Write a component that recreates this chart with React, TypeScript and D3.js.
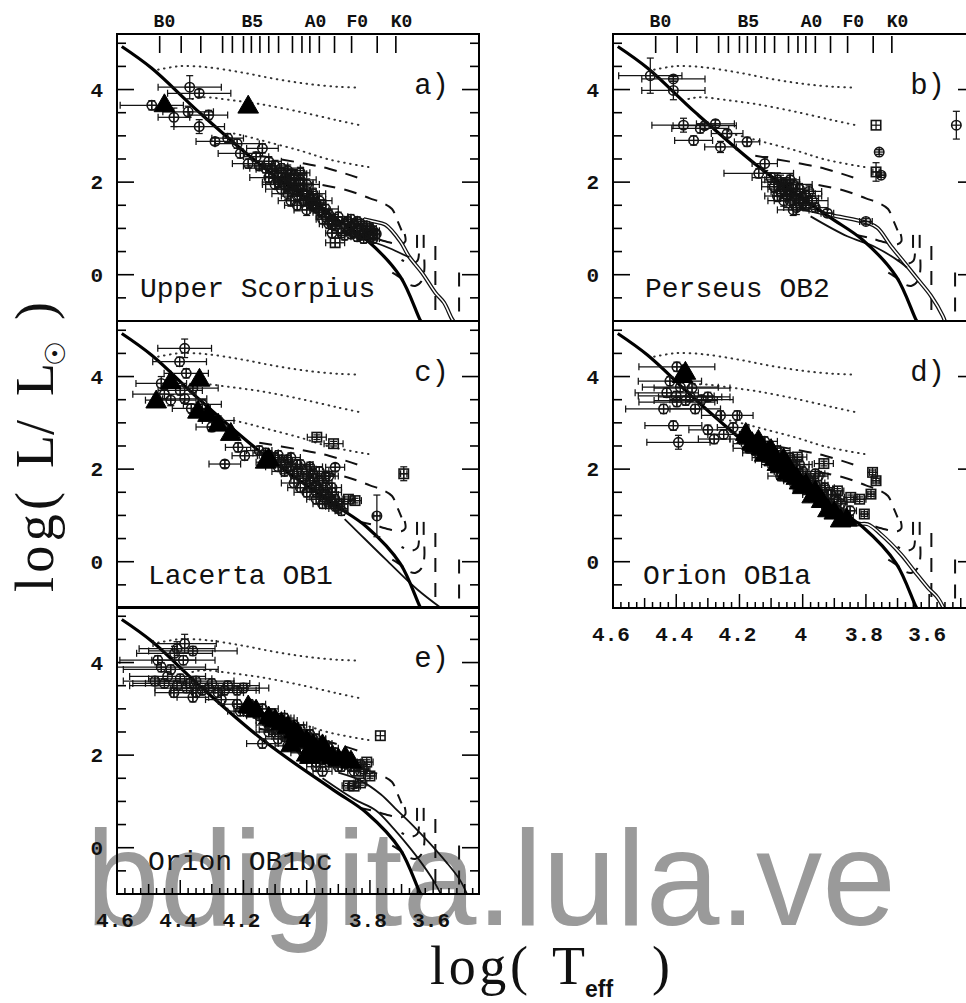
import React from "react";
import * as d3 from "d3";

type Pt = [number, number];
type Star = [number, number, number, number, string];

const T_DOMAIN: [number, number] = [4.6, 3.455];
const L_DOMAIN: [number, number] = [-1, 5.2];
const L_TICK_LABELS = [0, 2, 4];
const T_TICK_LABELS = [4.6, 4.4, 4.2, 4.0, 3.8, 3.6];
const SPECTRAL_TICKS = [4.465, 4.397, 4.335, 4.266, 4.235, 4.2, 4.175, 4.148, 4.12, 4.089, 4.045, 4.015, 3.99, 3.96, 3.912, 3.858, 3.777, 3.718];
const SPECTRAL_LABELS: [string, number][] = [["B0", 4.45], ["B5", 4.172], ["A0", 3.972], ["F0", 3.84], ["K0", 3.7]];

// model curves (shared by all panels)
const zams: Pt[] = [[4.585, 4.93], [4.49, 4.46], [4.337, 3.49], [4.126, 2.26], [3.916, 1.25], [3.81, 0.75], [3.704, -0.04], [3.641, -0.98], [3.63, -1.1]];
const dotted1: Pt[] = [[4.47, 4.43], [4.42, 4.49], [4.386, 4.51], [4.312, 4.48], [4.206, 4.37], [4.1, 4.23], [3.995, 4.12], [3.9, 4.06], [3.836, 4.04]];
const dotted2: Pt[] = [[4.38, 3.76], [4.345, 3.82], [4.31, 3.83], [4.25, 3.78], [4.143, 3.68], [4.016, 3.51], [3.9, 3.33], [3.825, 3.22]];
const dotted3: Pt[] = [[4.23, 3.05], [4.18, 2.97], [4.12, 2.86], [4.02, 2.68], [3.93, 2.49], [3.8, 2.32]];
const dashed1: Pt[] = [[4.15, 2.57], [4.03, 2.43], [3.93, 2.29], [3.84, 2.1]];
const dashed2: Pt[] = [[3.95, 1.94], [3.87, 1.82], [3.8, 1.65], [3.76, 1.55], [3.73, 1.42], [3.715, 1.2], [3.7, 0.96]];
const dashedHook1: Pt[] = [[3.69, 0.88], [3.688, 0.72], [3.7, 0.66], [3.74, 0.7], [3.79, 0.8], [3.83, 0.86]];
const dashedHook2: Pt[] = [[3.645, 0.46], [3.65, 0.3], [3.67, 0.24], [3.7, 0.32]];
const dashedHook3: Pt[] = [[3.628, 0.33], [3.628, 0.1], [3.635, -0.12], [3.655, -0.24], [3.68, -0.2], [3.7, -0.08], [3.73, 0.05]];
const hayashi1: Pt[] = [[3.651, 0.86], [3.651, 0.54]];
const hayashi2: Pt[] = [[3.63, 0.86], [3.63, 0.54]];
const hayashi3: Pt[] = [[3.593, 0.62], [3.593, -0.95]];
const hayashi4: Pt[] = [[3.518, 0.05], [3.518, -1.0]];

// isochrones per panel
const isoA1: Pt[] = [[3.82, 1.2], [3.788, 1.15], [3.751, 1.08], [3.704, 0.72], [3.677, 0.4], [3.635, 0.04], [3.593, -0.39], [3.566, -0.6], [3.54, -0.96], [3.53, -1.05]];
const isoA2: Pt[] = [[3.84, 0.8], [3.783, 0.69], [3.73, 0.55], [3.69, 0.42], [3.675, 0.38]];
const isoB1: Pt[] = [[4.006, 1.44], [3.911, 1.29], [3.795, 1.12], [3.763, 1.01], [3.72, 0.61], [3.678, 0.26], [3.636, -0.1], [3.594, -0.46], [3.557, -0.89], [3.548, -1.05]];
const isoB2: Pt[] = [[3.975, 1.26], [3.859, 0.83], [3.774, 0.61], [3.689, 0.26], [3.67, 0.15]];
const isoC1: Pt[] = [[3.88, 0.92], [3.847, 0.7], [3.75, 0.05], [3.65, -0.6], [3.565, -1.05]];
const isoD1: Pt[] = [[3.9, 1.05], [3.848, 0.81], [3.795, 0.81], [3.752, 0.59], [3.689, 0.16], [3.647, -0.2], [3.604, -0.56], [3.573, -0.78], [3.551, -1.05]];
const isoE1: Pt[] = [[3.9, 1.62], [3.83, 1.45], [3.765, 1.15], [3.72, 0.85], [3.667, 0.5], [3.614, 0.12], [3.56, -0.3], [3.515, -0.7], [3.49, -1.05]];
const isoE2: Pt[] = [[3.95, 1.5], [3.85, 1.05], [3.78, 0.8], [3.73, 0.45], [3.68, 0.05], [3.64, -0.3], [3.6, -0.7], [3.572, -1.05]];

// stars: [logTeff, logL, errT, errL, symbol]
const starsA: Star[] = [
  [4.37, 4.05, 0.1, 0.25, "c"], [4.34, 3.92, 0.1, 0.08, "c"], [4.49, 3.66, 0.1, 0.1, "c"], [4.375, 3.52, 0.08, 0.12, "c"],
  [4.31, 3.45, 0.06, 0.1, "c"], [4.34, 3.2, 0.08, 0.15, "c"], [4.42, 3.4, 0.05, 0.2, "c"], [4.29, 2.88, 0.06, 0.08, "c"],
  [4.25, 2.95, 0.05, 0.1, "c"], [4.22, 2.83, 0.07, 0.1, "c"], [4.14, 2.73, 0.05, 0.1, "c"], [4.21, 2.62, 0.07, 0.1, "c"],
  [4.185, 2.4, 0.05, 0.1, "c"], [4.16, 2.55, 0.04, 0.1, "c"],
  [4.1, 2.35, 0.04, 0.12, "c"], [4.08, 2.2, 0.03, 0.12, "c"], [4.06, 2.25, 0.05, 0.12, "c"], [4.05, 2.05, 0.04, 0.12, "c"],
  [4.07, 1.95, 0.06, 0.12, "c"], [4.04, 1.85, 0.03, 0.12, "c"], [4.02, 1.95, 0.04, 0.12, "c"], [4.03, 1.7, 0.05, 0.12, "c"],
  [4.0, 1.8, 0.03, 0.12, "c"], [4.01, 1.6, 0.04, 0.12, "c"], [3.99, 1.65, 0.03, 0.12, "c"], [3.98, 1.5, 0.04, 0.12, "c"],
  [3.97, 1.55, 0.03, 0.12, "c"], [4.05, 1.6, 0.04, 0.12, "c"], [4.09, 2.0, 0.05, 0.12, "c"], [4.12, 2.1, 0.06, 0.12, "c"],
  [3.96, 1.4, 0.03, 0.12, "c"], [4.0, 1.4, 0.04, 0.12, "c"], [4.04, 2.15, 0.04, 0.12, "c"], [4.02, 2.2, 0.03, 0.12, "c"],
  [3.98, 1.75, 0.04, 0.12, "c"], [4.06, 1.75, 0.05, 0.12, "c"],
  [4.11, 2.28, 0.05, 0.12, "c"], [4.09, 2.12, 0.04, 0.12, "c"], [4.08, 2.3, 0.06, 0.1, "c"], [4.07, 2.08, 0.05, 0.12, "c"],
  [4.06, 1.9, 0.04, 0.12, "c"], [4.05, 2.18, 0.05, 0.1, "c"], [4.04, 1.98, 0.06, 0.12, "c"], [4.03, 1.82, 0.04, 0.12, "c"],
  [4.02, 2.05, 0.05, 0.12, "c"], [4.01, 1.75, 0.05, 0.12, "c"], [4.0, 1.95, 0.04, 0.12, "c"], [3.99, 1.55, 0.05, 0.12, "c"],
  [3.98, 1.62, 0.04, 0.12, "c"], [3.97, 1.45, 0.03, 0.12, "c"], [3.96, 1.6, 0.04, 0.12, "c"], [3.95, 1.35, 0.03, 0.1, "c"],
  [3.94, 1.42, 0.04, 0.1, "c"], [3.93, 1.3, 0.03, 0.1, "c"], [3.92, 1.08, 0.03, 0.1, "c"], [3.9, 1.25, 0.03, 0.1, "c"],
  [3.89, 0.9, 0.03, 0.1, "c"], [3.87, 1.15, 0.03, 0.1, "c"], [3.86, 0.88, 0.02, 0.1, "c"], [3.85, 1.1, 0.03, 0.1, "c"],
  [3.84, 0.82, 0.02, 0.1, "c"], [3.83, 1.1, 0.02, 0.1, "c"], [3.82, 0.88, 0.02, 0.1, "c"], [3.81, 0.95, 0.02, 0.1, "c"],
  [3.8, 1.0, 0.02, 0.1, "c"], [3.79, 0.95, 0.02, 0.1, "c"], [3.78, 0.88, 0.01, 0.1, "c"], [3.79, 0.78, 0.02, 0.1, "c"],
  [4.03, 1.5, 0.04, 0.12, "c"], [4.08, 1.85, 0.05, 0.1, "c"], [4.1, 1.95, 0.04, 0.1, "c"], [4.13, 2.3, 0.05, 0.1, "c"],
  [4.15, 2.35, 0.05, 0.1, "c"], [4.12, 2.45, 0.04, 0.1, "c"],
  [3.94, 1.25, 0.03, 0.1, "c"], [3.92, 1.2, 0.02, 0.1, "c"], [3.9, 1.15, 0.03, 0.1, "c"], [3.88, 1.1, 0.02, 0.1, "c"],
  [3.86, 1.05, 0.03, 0.1, "c"], [3.84, 1.0, 0.02, 0.1, "c"], [3.82, 0.95, 0.02, 0.1, "c"], [3.8, 0.9, 0.02, 0.1, "c"],
  [3.79, 0.85, 0.01, 0.1, "c"], [3.81, 1.05, 0.02, 0.1, "c"], [3.83, 0.85, 0.02, 0.1, "c"], [3.85, 0.9, 0.03, 0.1, "c"],
  [3.87, 0.95, 0.02, 0.1, "c"], [3.89, 1.0, 0.03, 0.1, "c"], [3.91, 1.05, 0.02, 0.1, "c"], [3.93, 1.1, 0.03, 0.1, "c"],
  [3.95, 1.2, 0.02, 0.1, "c"], [3.86, 1.2, 0.02, 0.1, "c"], [3.84, 1.15, 0.02, 0.1, "c"], [3.8, 0.8, 0.02, 0.1, "c"],
  [3.82, 0.78, 0.02, 0.1, "c"], [3.92, 0.9, 0.02, 0.1, "c"], [3.88, 0.85, 0.02, 0.1, "c"], [3.91, 0.69, 0.03, 0.1, "s"],
];
const trisA: Pt[] = [[4.45, 3.65], [4.185, 3.62]];

const starsB: Star[] = [
  [4.482, 4.3, 0.1, 0.38, "c"], [4.409, 4.23, 0.1, 0.05, "c"], [4.409, 3.98, 0.1, 0.2, "c"], [4.377, 3.23, 0.1, 0.15, "c"],
  [4.324, 3.16, 0.09, 0.1, "c"], [4.31, 3.22, 0.1, 0.08, "c"], [4.276, 3.26, 0.06, 0.08, "c"], [4.239, 3.05, 0.05, 0.08, "c"],
  [4.345, 2.9, 0.06, 0.1, "c"], [4.26, 2.76, 0.05, 0.12, "c"], [4.176, 2.87, 0.04, 0.1, "c"], [4.139, 2.19, 0.11, 0.1, "c"],
  [4.12, 2.4, 0.04, 0.15, "c"],
  [4.08, 2.05, 0.04, 0.15, "c"], [4.06, 1.95, 0.05, 0.12, "c"], [4.05, 1.85, 0.03, 0.12, "c"], [4.04, 1.75, 0.04, 0.12, "c"],
  [4.03, 1.95, 0.06, 0.12, "c"], [4.02, 1.65, 0.05, 0.15, "c"], [4.05, 1.7, 0.04, 0.1, "c"], [4.07, 1.8, 0.03, 0.12, "c"],
  [4.01, 1.85, 0.04, 0.12, "c"], [4.0, 1.55, 0.03, 0.12, "c"], [3.99, 1.7, 0.05, 0.12, "c"], [4.04, 2.05, 0.03, 0.1, "c"],
  [4.02, 1.45, 0.04, 0.15, "c"], [4.06, 1.6, 0.05, 0.12, "c"], [3.98, 1.8, 0.04, 0.12, "c"], [4.09, 1.9, 0.04, 0.12, "c"],
  [4.07, 2.0, 0.06, 0.15, "c"], [4.05, 1.95, 0.04, 0.12, "c"], [4.04, 1.6, 0.05, 0.15, "c"], [4.03, 1.85, 0.03, 0.15, "c"],
  [4.02, 1.75, 0.06, 0.12, "c"], [4.01, 1.55, 0.04, 0.15, "c"], [4.0, 1.65, 0.05, 0.12, "c"], [3.99, 1.5, 0.04, 0.12, "c"],
  [4.06, 1.85, 0.05, 0.12, "c"], [4.08, 1.7, 0.04, 0.12, "c"], [4.03, 1.4, 0.05, 0.12, "c"], [3.97, 1.6, 0.05, 0.1, "c"],
  [4.1, 2.1, 0.06, 0.1, "c"], [3.96, 1.45, 0.04, 0.1, "c"],
  [3.922, 1.33, 0.02, 0.08, "c"], [3.8, 1.15, 0.02, 0.06, "c"],
  [3.768, 3.23, 0, 0, "s"], [3.758, 2.65, 0, 0.05, "c"], [3.768, 2.22, 0.01, 0.2, "s"], [3.752, 2.15, 0.01, 0.05, "c"],
  [3.514, 3.23, 0, 0.3, "c"],
];
const trisB: Pt[] = [];

const starsC: Star[] = [
  [4.386, 4.61, 0.085, 0.2, "c"], [4.402, 4.32, 0.085, 0.1, "c"], [4.381, 4.07, 0.07, 0.1, "c"], [4.46, 3.85, 0.08, 0.15, "c"],
  [4.43, 3.49, 0.08, 0.12, "c"], [4.386, 3.52, 0.07, 0.1, "c"], [4.365, 3.31, 0.06, 0.1, "c"], [4.3, 2.91, 0.05, 0.1, "c"],
  [4.217, 2.47, 0.04, 0.1, "c"], [4.196, 2.29, 0.04, 0.1, "c"], [4.259, 2.11, 0.05, 0.08, "c"], [4.4, 3.7, 0.07, 0.1, "c"],
  [4.33, 3.4, 0.06, 0.1, "c"], [4.28, 3.05, 0.05, 0.1, "c"], [4.45, 3.62, 0.1, 0.1, "c"], [4.36, 3.75, 0.08, 0.1, "c"],
  [3.968, 2.69, 0.03, 0.05, "s"], [3.915, 2.55, 0.03, 0.05, "s"], [3.91, 2.04, 0.03, 0.08, "c"], [3.868, 1.35, 0.02, 0.05, "s"],
  [3.847, 1.32, 0.02, 0.05, "s"], [3.778, 0.99, 0.01, 0.45, "c"], [3.693, 1.9, 0.01, 0.15, "s"],
  [4.15, 2.4, 0.04, 0.1, "c"], [4.12, 2.3, 0.03, 0.1, "c"], [4.1, 2.25, 0.04, 0.1, "c"], [4.08, 2.15, 0.03, 0.1, "c"],
  [4.06, 2.2, 0.04, 0.1, "c"], [4.05, 2.05, 0.03, 0.1, "c"], [4.03, 1.95, 0.04, 0.1, "c"], [4.02, 2.1, 0.03, 0.1, "c"],
  [4.0, 1.85, 0.04, 0.1, "c"], [3.99, 1.75, 0.03, 0.1, "c"], [3.98, 1.9, 0.04, 0.1, "c"], [3.97, 1.65, 0.03, 0.1, "c"],
  [3.96, 1.55, 0.04, 0.1, "c"], [3.95, 1.7, 0.03, 0.1, "c"], [3.94, 1.45, 0.04, 0.1, "c"], [3.93, 1.4, 0.03, 0.1, "c"],
  [3.92, 1.3, 0.03, 0.1, "c"], [3.91, 1.2, 0.03, 0.1, "c"], [3.9, 1.15, 0.03, 0.1, "c"], [4.04, 1.7, 0.04, 0.1, "c"],
  [4.0, 1.5, 0.04, 0.1, "c"], [3.97, 1.35, 0.03, 0.1, "c"], [3.95, 1.25, 0.03, 0.1, "c"], [4.07, 1.95, 0.04, 0.1, "c"],
  [4.09, 2.05, 0.04, 0.1, "c"], [3.94, 1.85, 0.03, 0.1, "c"], [3.92, 1.6, 0.03, 0.1, "c"], [4.02, 1.6, 0.04, 0.1, "c"],
  [4.13, 2.35, 0.04, 0.1, "c"], [4.11, 2.15, 0.05, 0.1, "c"], [4.09, 2.3, 0.04, 0.1, "c"], [4.07, 2.1, 0.05, 0.1, "c"],
  [4.05, 2.25, 0.03, 0.1, "c"], [4.04, 1.9, 0.04, 0.1, "c"], [4.03, 2.1, 0.05, 0.1, "c"], [4.01, 1.8, 0.04, 0.1, "c"],
  [4.0, 2.0, 0.03, 0.1, "c"], [3.99, 1.6, 0.04, 0.1, "c"], [3.98, 1.8, 0.05, 0.1, "c"], [3.97, 1.5, 0.04, 0.1, "c"],
  [3.96, 1.75, 0.03, 0.1, "c"], [3.95, 1.4, 0.04, 0.1, "c"], [3.94, 1.6, 0.03, 0.1, "c"], [3.93, 1.25, 0.03, 0.1, "c"],
  [3.92, 1.5, 0.03, 0.1, "c"], [3.91, 1.35, 0.03, 0.1, "c"], [3.9, 1.25, 0.03, 0.1, "c"], [3.89, 1.1, 0.02, 0.1, "c"],
  [3.96, 1.95, 0.03, 0.1, "c"], [3.99, 2.05, 0.04, 0.1, "c"], [3.93, 1.85, 0.03, 0.1, "c"],
];
const trisC: Pt[] = [[4.476, 3.45], [4.43, 3.87], [4.339, 3.92], [4.344, 3.23], [4.312, 3.16], [4.24, 2.75], [4.13, 2.15], [4.12, 2.2], [4.28, 2.95]];

const starsD: Star[] = [
  [4.398, 4.21, 0.12, 0.1, "c"], [4.387, 3.77, 0.12, 0.1, "c"], [4.42, 3.9, 0.1, 0.1, "c"], [4.356, 3.56, 0.1, 0.1, "c"],
  [4.398, 3.45, 0.12, 0.1, "c"], [4.3, 3.56, 0.07, 0.1, "c"], [4.409, 2.94, 0.09, 0.1, "c"], [4.393, 2.58, 0.1, 0.15, "c"],
  [4.207, 3.16, 0.05, 0.1, "c"], [4.26, 3.16, 0.06, 0.1, "c"], [4.34, 3.3, 0.08, 0.1, "c"], [4.3, 2.85, 0.06, 0.1, "c"],
  [4.25, 2.75, 0.05, 0.1, "c"], [4.28, 2.65, 0.05, 0.1, "c"], [4.22, 2.9, 0.05, 0.1, "c"],
  [4.44, 3.3, 0.12, 0.1, "c"], [4.4, 3.58, 0.12, 0.1, "c"], [4.37, 3.48, 0.1, 0.1, "c"], [4.32, 3.5, 0.1, 0.1, "c"],
  [4.35, 3.75, 0.12, 0.1, "c"], [4.43, 3.65, 0.1, 0.1, "c"],
  [4.18, 2.55, 0.04, 0.1, "c"], [4.15, 2.4, 0.04, 0.1, "c"], [4.13, 2.5, 0.03, 0.1, "c"], [4.12, 2.25, 0.04, 0.1, "c"],
  [4.1, 2.35, 0.03, 0.1, "c"], [4.09, 2.1, 0.04, 0.1, "c"], [4.08, 2.2, 0.03, 0.1, "c"], [4.06, 2.0, 0.04, 0.1, "c"],
  [4.05, 2.15, 0.03, 0.1, "c"], [4.04, 1.9, 0.04, 0.1, "c"], [4.03, 1.8, 0.03, 0.1, "c"], [4.02, 2.0, 0.04, 0.1, "c"],
  [4.01, 1.7, 0.03, 0.1, "c"], [4.0, 1.85, 0.04, 0.1, "c"], [3.99, 1.6, 0.03, 0.1, "c"], [3.98, 1.75, 0.04, 0.1, "c"],
  [3.97, 1.5, 0.03, 0.1, "c"], [3.96, 1.65, 0.04, 0.1, "c"], [3.95, 1.4, 0.03, 0.1, "c"], [3.94, 1.55, 0.04, 0.1, "c"],
  [3.93, 1.3, 0.03, 0.1, "c"], [3.92, 1.45, 0.03, 0.1, "c"], [3.91, 1.2, 0.03, 0.1, "c"], [3.9, 1.35, 0.03, 0.1, "c"],
  [3.89, 1.1, 0.03, 0.1, "c"], [3.88, 1.25, 0.02, 0.1, "c"], [3.87, 1.0, 0.02, 0.1, "c"], [4.07, 1.85, 0.04, 0.1, "c"],
  [4.04, 2.25, 0.04, 0.1, "c"], [3.95, 1.85, 0.03, 0.1, "c"],
  [4.19, 2.65, 0.04, 0.1, "c"], [4.17, 2.45, 0.05, 0.1, "c"], [4.16, 2.6, 0.04, 0.1, "c"], [4.14, 2.35, 0.05, 0.1, "c"],
  [4.11, 2.45, 0.04, 0.1, "c"], [4.1, 2.2, 0.05, 0.1, "c"], [4.07, 2.3, 0.04, 0.1, "c"], [4.06, 2.1, 0.05, 0.1, "c"],
  [4.05, 1.95, 0.04, 0.1, "c"], [4.03, 2.1, 0.05, 0.1, "c"], [4.02, 1.75, 0.04, 0.1, "c"], [4.0, 1.95, 0.05, 0.1, "c"],
  [3.99, 1.8, 0.04, 0.1, "c"], [3.98, 1.55, 0.05, 0.1, "c"], [3.97, 1.7, 0.04, 0.1, "c"], [3.96, 1.45, 0.04, 0.1, "c"],
  [3.94, 1.35, 0.04, 0.1, "c"], [3.93, 1.6, 0.03, 0.1, "c"], [3.92, 1.25, 0.03, 0.1, "c"], [3.91, 1.45, 0.03, 0.1, "c"],
  [3.9, 1.15, 0.03, 0.1, "c"], [3.89, 1.3, 0.03, 0.1, "c"], [3.88, 1.05, 0.03, 0.1, "c"], [3.86, 0.95, 0.02, 0.1, "c"],
  [3.85, 1.1, 0.02, 0.1, "c"], [4.08, 2.4, 0.04, 0.1, "c"], [4.01, 2.1, 0.04, 0.1, "c"], [3.96, 1.9, 0.03, 0.1, "c"],
  [4.12, 2.6, 0.04, 0.1, "c"],
  [3.933, 2.12, 0.03, 0.05, "s"], [4.017, 2.26, 0.03, 0.05, "s"], [3.779, 1.93, 0.01, 0.05, "s"], [3.768, 1.75, 0.01, 0.05, "s"],
  [3.784, 1.46, 0.01, 0.05, "s"], [3.805, 1.03, 0.01, 0.05, "s"], [3.848, 1.39, 0.02, 0.05, "s"], [3.89, 1.53, 0.02, 0.05, "s"],
  [3.82, 1.35, 0.02, 0.05, "s"],
];
const trisD: Pt[] = [
  [4.371, 4.07], [4.38, 4.0], [4.176, 2.69], [4.18, 2.75], [4.16, 2.55], [4.15, 2.5], [4.14, 2.6], [4.13, 2.45], [4.12, 2.3],
  [4.11, 2.35], [4.1, 2.4], [4.09, 2.2], [4.08, 2.1], [4.07, 2.05], [4.06, 2.2], [4.05, 1.9], [4.04, 1.95], [4.03, 1.85],
  [4.02, 1.8], [4.01, 1.7], [4.0, 1.6], [3.99, 1.65], [3.97, 1.4], [3.96, 1.5], [3.94, 1.3], [3.92, 1.1], [3.9, 1.05],
  [3.88, 0.88], [3.86, 0.9],
];

const starsE: Star[] = [
  [4.471, 4.05, 0.12, 0.1, "c"], [4.418, 4.2, 0.12, 0.15, "c"], [4.386, 4.41, 0.1, 0.2, "c"], [4.39, 4.05, 0.1, 0.1, "c"],
  [4.36, 4.25, 0.14, 0.1, "c"], [4.43, 3.85, 0.15, 0.1, "c"],
  [4.4, 3.65, 0.1, 0.1, "c"], [4.35, 3.6, 0.12, 0.1, "c"], [4.3, 3.55, 0.12, 0.1, "c"], [4.25, 3.5, 0.1, 0.1, "c"],
  [4.2, 3.45, 0.08, 0.1, "c"], [4.45, 3.55, 0.1, 0.1, "c"], [4.38, 3.45, 0.1, 0.1, "c"], [4.33, 3.4, 0.1, 0.1, "c"],
  [4.28, 3.35, 0.08, 0.1, "c"], [4.22, 3.4, 0.07, 0.1, "c"], [4.42, 3.35, 0.06, 0.1, "c"], [4.36, 3.25, 0.05, 0.1, "c"],
  [4.27, 3.2, 0.05, 0.1, "c"],
  [4.48, 3.6, 0.1, 0.1, "c"], [4.44, 3.7, 0.12, 0.1, "c"], [4.41, 3.5, 0.15, 0.1, "c"], [4.37, 3.55, 0.14, 0.1, "c"],
  [4.31, 3.45, 0.12, 0.1, "c"], [4.26, 3.4, 0.1, 0.1, "c"], [4.35, 3.35, 0.08, 0.1, "c"], [4.46, 3.9, 0.14, 0.1, "c"],
  [4.41, 4.3, 0.12, 0.15, "c"],
  [4.22, 3.1, 0.04, 0.1, "c"], [4.19, 2.95, 0.04, 0.1, "c"], [4.17, 3.05, 0.03, 0.1, "c"], [4.15, 2.85, 0.04, 0.1, "c"],
  [4.13, 2.75, 0.03, 0.1, "c"], [4.11, 2.9, 0.04, 0.1, "c"], [4.1, 2.65, 0.03, 0.1, "c"], [4.08, 2.55, 0.04, 0.1, "c"],
  [4.07, 2.8, 0.03, 0.1, "c"], [4.05, 2.45, 0.04, 0.1, "c"], [4.04, 2.65, 0.03, 0.1, "c"], [4.03, 2.35, 0.04, 0.1, "c"],
  [4.02, 2.55, 0.03, 0.1, "c"], [4.0, 2.25, 0.04, 0.1, "c"], [3.99, 2.45, 0.03, 0.1, "c"], [3.98, 2.15, 0.04, 0.1, "c"],
  [3.97, 2.35, 0.03, 0.1, "c"], [3.96, 2.05, 0.04, 0.1, "c"], [3.95, 2.25, 0.03, 0.1, "c"], [3.94, 1.95, 0.04, 0.1, "c"],
  [3.93, 2.15, 0.03, 0.1, "c"], [3.92, 1.85, 0.03, 0.1, "c"], [3.91, 2.05, 0.03, 0.1, "c"], [3.9, 1.75, 0.03, 0.1, "c"],
  [3.89, 1.95, 0.03, 0.1, "c"], [3.88, 1.85, 0.02, 0.1, "c"], [3.86, 1.75, 0.02, 0.1, "c"], [3.85, 1.65, 0.02, 0.1, "c"],
  [3.83, 1.8, 0.02, 0.1, "c"], [3.82, 1.7, 0.02, 0.1, "c"], [4.06, 2.2, 0.04, 0.1, "c"], [4.01, 2.05, 0.04, 0.1, "c"],
  [3.97, 1.85, 0.03, 0.1, "c"], [3.95, 1.65, 0.03, 0.1, "c"], [4.12, 2.5, 0.04, 0.1, "c"], [4.09, 2.35, 0.04, 0.1, "c"],
  [4.14, 2.25, 0.05, 0.1, "c"],
  [4.21, 2.95, 0.04, 0.1, "c"], [4.18, 3.1, 0.05, 0.1, "c"], [4.16, 2.9, 0.04, 0.1, "c"], [4.14, 3.0, 0.05, 0.1, "c"],
  [4.12, 2.65, 0.04, 0.1, "c"], [4.1, 2.8, 0.05, 0.1, "c"], [4.09, 2.55, 0.04, 0.1, "c"], [4.08, 2.75, 0.05, 0.1, "c"],
  [4.06, 2.45, 0.04, 0.1, "c"], [4.05, 2.65, 0.05, 0.1, "c"], [4.04, 2.35, 0.04, 0.1, "c"], [4.03, 2.55, 0.05, 0.1, "c"],
  [4.01, 2.3, 0.04, 0.1, "c"], [4.0, 2.45, 0.04, 0.1, "c"], [3.99, 2.15, 0.04, 0.1, "c"], [3.98, 2.35, 0.04, 0.1, "c"],
  [3.97, 2.0, 0.03, 0.1, "c"], [3.96, 2.25, 0.03, 0.1, "c"], [3.95, 1.9, 0.03, 0.1, "c"], [3.94, 2.1, 0.03, 0.1, "c"],
  [3.93, 1.85, 0.03, 0.1, "c"], [3.92, 2.0, 0.03, 0.1, "c"], [3.91, 1.9, 0.03, 0.1, "c"], [3.9, 1.85, 0.03, 0.1, "c"],
  [3.89, 1.75, 0.02, 0.1, "c"], [3.87, 1.9, 0.02, 0.1, "c"], [3.86, 1.85, 0.02, 0.1, "c"], [3.84, 1.75, 0.02, 0.1, "c"],
  [3.83, 1.65, 0.02, 0.1, "c"], [4.02, 2.15, 0.04, 0.1, "c"], [3.97, 1.75, 0.03, 0.1, "c"], [4.07, 2.4, 0.04, 0.1, "c"],
  [4.11, 2.55, 0.04, 0.1, "c"],
  [3.767, 2.42, 0, 0, "s"], [3.868, 1.34, 0.02, 0.05, "s"], [3.85, 1.33, 0.02, 0.05, "s"], [3.83, 1.4, 0.02, 0.05, "s"],
  [3.8, 1.55, 0.02, 0.05, "s"], [3.81, 1.85, 0.02, 0.05, "s"],
];
const trisE: Pt[] = [
  [4.185, 3.04], [4.16, 2.95], [4.12, 2.8], [4.1, 2.75], [4.08, 2.68], [4.06, 2.6], [4.04, 2.5], [4.03, 2.45], [4.02, 2.35],
  [4.0, 2.3], [4.05, 2.2], [3.99, 1.95], [4.0, 2.0], [3.98, 2.2], [3.97, 2.1], [3.96, 2.05], [3.95, 2.2], [3.94, 2.0],
  [3.92, 1.95], [3.9, 1.9], [3.878, 1.95], [3.86, 1.85],
];

// layout
const W = 966, H = 1003, PW = 362, PH = 287;
const PANELS = [
  { key: "a", name: "Upper Scorpius", left: 117, top: 34, nameDx: 23, spectral: true, xlabels: false, stars: starsA, tris: trisA, dbl: [isoA1], sgl: [isoA2] },
  { key: "b", name: "Perseus OB2", left: 613, top: 34, nameDx: 32, spectral: true, xlabels: false, stars: starsB, tris: trisB, dbl: [isoB1], sgl: [isoB2] },
  { key: "c", name: "Lacerta OB1", left: 117, top: 321, nameDx: 31, spectral: false, xlabels: false, stars: starsC, tris: trisC, dbl: [], sgl: [isoC1] },
  { key: "d", name: "Orion OB1a", left: 613, top: 321, nameDx: 30, spectral: false, xlabels: true, stars: starsD, tris: trisD, dbl: [isoD1], sgl: [] },
  { key: "e", name: "Orion OB1bc", left: 117, top: 607, nameDx: 31, spectral: false, xlabels: true, stars: starsE, tris: trisE, dbl: [], sgl: [isoE1, isoE2] },
];

const MONO = "'Liberation Mono', 'DejaVu Sans Mono', monospace";

function Panel({ p }: { p: (typeof PANELS)[number] }) {
  const x = d3.scaleLinear().domain(T_DOMAIN).range([p.left, p.left + PW]);
  const y = d3.scaleLinear().domain(L_DOMAIN).range([p.top + PH, p.top]);
  const smooth = d3.line<Pt>().x((d) => x(d[0])).y((d) => y(d[1])).curve(d3.curveCatmullRom.alpha(0.5));
  const straight = d3.line<Pt>().x((d) => x(d[0])).y((d) => y(d[1]));
  const clip = `clip-${p.key}`;
  const yTicks = d3.range(-0.5, 5.01, 0.5);
  const xTicks = d3.range(0, 46).map((i) => ({ v: 4.6 - i * 0.025, major: i % 8 === 0, mid: i % 4 === 0 }));
  const tri = d3.symbol(d3.symbolTriangle, 185)() as string;
  const r = 4.7;
  return (
    <g>
      <defs>
        <clipPath id={clip}>
          <rect x={p.left} y={p.top} width={PW} height={PH} />
        </clipPath>
      </defs>
      <g clipPath={`url(#${clip})`} fill="none">
        {[dotted1, dotted2, dotted3].map((c, i) => (
          <path key={"dt" + i} d={smooth(c)!} stroke="#333" strokeWidth={2} strokeDasharray="0.6 5.4" strokeLinecap="round" />
        ))}
        {[dashed1, dashed2, dashedHook1, dashedHook2, dashedHook3].map((c, i) => (
          <path key={"ds" + i} d={smooth(c)!} stroke="#111" strokeWidth={2} strokeDasharray="13 9" />
        ))}
        {[hayashi1, hayashi2].map((c, i) => (
          <path key={"h" + i} d={straight(c)!} stroke="#111" strokeWidth={2} strokeDasharray="13 6" />
        ))}
        {[hayashi3, hayashi4].map((c, i) => (
          <path key={"hv" + i} d={straight(c)!} stroke="#111" strokeWidth={2} strokeDasharray="14 11" />
        ))}
        {p.dbl.map((c, i) => (
          <g key={"db" + i}>
            <path d={smooth(c)!} stroke="#111" strokeWidth={4} />
            <path d={smooth(c)!} stroke="#fff" strokeWidth={1.5} />
          </g>
        ))}
        {p.sgl.map((c, i) => (
          <path key={"sg" + i} d={smooth(c)!} stroke="#111" strokeWidth={1.8} />
        ))}
        <path d={smooth(zams)!} stroke="#000" strokeWidth={3.2} />
        {p.stars.map((s, i) => {
          const cx = x(s[0]), cy = y(s[1]);
          const x1 = x(s[0] + s[2]), x2 = x(s[0] - s[2]);
          const y1 = y(s[1] + s[3]), y2 = y(s[1] - s[3]);
          return (
            <g key={"s" + i} stroke="#141414" strokeWidth={1.25}>
              {s[2] > 0 && (
                <>
                  <line x1={x1} x2={x2} y1={cy} y2={cy} />
                  <line x1={x1} x2={x1} y1={cy - 3.5} y2={cy + 3.5} />
                  <line x1={x2} x2={x2} y1={cy - 3.5} y2={cy + 3.5} />
                </>
              )}
              {s[3] > 0 && (
                <>
                  <line x1={cx} x2={cx} y1={y1} y2={y2} />
                  <line x1={cx - 3.5} x2={cx + 3.5} y1={y1} y2={y1} />
                  <line x1={cx - 3.5} x2={cx + 3.5} y1={y2} y2={y2} />
                </>
              )}
              {s[4] === "s" ? (
                <rect x={cx - r} y={cy - r} width={2 * r} height={2 * r} strokeWidth={1.6} />
              ) : (
                <circle cx={cx} cy={cy} r={r} strokeWidth={1.6} />
              )}
              <line x1={cx - r} x2={cx + r} y1={cy} y2={cy} />
              <line x1={cx} x2={cx} y1={cy - r} y2={cy + r} />
            </g>
          );
        })}
        {p.tris.map((t, i) => (
          <path key={"t" + i} d={tri} transform={`translate(${x(t[0])},${y(t[1])})`} fill="#000" stroke="#000" strokeWidth={1} />
        ))}
      </g>
      {/* frame */}
      <rect x={p.left} y={p.top} width={PW} height={PH} fill="none" stroke="#000" strokeWidth={2} />
      {yTicks.map((v) => {
        const len = Math.abs(v % 2) < 1e-6 ? 17 : 9;
        return (
          <g key={"yt" + v} stroke="#000" strokeWidth={1.6}>
            <line x1={p.left} x2={p.left + len} y1={y(v)} y2={y(v)} />
            <line x1={p.left + PW} x2={p.left + PW - len} y1={y(v)} y2={y(v)} />
          </g>
        );
      })}
      {L_TICK_LABELS.map((v) => (
        <text key={"yl" + v} x={p.left - 14} y={y(v) + 7} textAnchor="end" fontFamily={MONO} fontWeight="bold" fontSize={21} fill="#111">
          {d3.format("d")(v)}
        </text>
      ))}
      {p.xlabels && (
        <g>
          {xTicks.map((t, i) => (
            <line key={"xt" + i} x1={x(t.v)} x2={x(t.v)} y1={p.top + PH} y2={p.top + PH - (t.major ? 14 : t.mid ? 10 : 6)} stroke="#000" strokeWidth={1.5} />
          ))}
          {T_TICK_LABELS.map((v) => (
            <text key={"xl" + v} x={x(v) - 2} y={p.top + PH + 33} textAnchor="middle" fontFamily={MONO} fontWeight="bold" fontSize={21} fill="#111">
              {d3.format("~g")(v)}
            </text>
          ))}
        </g>
      )}
      {p.spectral && (
        <g>
          {SPECTRAL_TICKS.map((v, i) => (
            <line key={"sp" + i} x1={x(v)} x2={x(v)} y1={p.top + 2} y2={p.top + 19} stroke="#000" strokeWidth={1.6} />
          ))}
          {SPECTRAL_LABELS.map(([n, v]) => (
            <text key={n} x={x(v)} y={p.top - 7} textAnchor="middle" fontFamily={MONO} fontWeight="bold" fontSize={18} fill="#111">
              {n}
            </text>
          ))}
        </g>
      )}
      <text x={p.left + PW - 30} y={p.top + 60} textAnchor="end" fontFamily={MONO} fontSize={29} fill="#111">
        {p.key + ")"}
      </text>
      <text x={p.left + p.nameDx} y={p.top + 263} fontFamily={MONO} fontSize={28} fill="#111">
        {p.name}
      </text>
    </g>
  );
}

export default function App() {
  const serif = "'Liberation Serif', 'Times New Roman', serif";
  return (
    <svg width={W} height={H} viewBox={`0 0 ${W} ${H}`} style={{ position: "absolute", left: 0, top: 0, background: "#fff" }}>
      <rect x={0} y={0} width={W} height={H} fill="#fff" />
      <text x={86} y={925} fontFamily="'Liberation Sans', Arial, sans-serif" fontSize={136} fill="#9a9a9a" textLength={810} lengthAdjust="spacingAndGlyphs">
        bdigita.lula.ve
      </text>
      {PANELS.map((p) => (
        <Panel key={p.key} p={p} />
      ))}
      {/* x axis title */}
      <g fontFamily={serif} fill="#111">
        <text x={430} y={984} fontSize={54} textLength={98} lengthAdjust="spacing">log(</text>
        <text x={552} y={984} fontSize={54}>T</text>
        <text x={585} y={997} fontSize={23} fontWeight="bold" fontFamily="'Liberation Sans', Arial, sans-serif">eff</text>
        <text x={652} y={984} fontSize={54}>)</text>
      </g>
      {/* y axis title */}
      <g transform="translate(53,592) rotate(-90)" fontFamily={serif} fill="#111">
        <text x={0} y={0} fontSize={54} textLength={100} lengthAdjust="spacing">log(</text>
        <text x={124} y={0} fontSize={54}>L</text>
        <text x={157} y={0} fontSize={54}>/</text>
        <text x={196} y={0} fontSize={54}>L</text>
        <text x={226} y={12} fontSize={28} fontFamily="'DejaVu Sans', sans-serif">☉</text>
        <text x={272} y={0} fontSize={54}>)</text>
      </g>
    </svg>
  );
}
